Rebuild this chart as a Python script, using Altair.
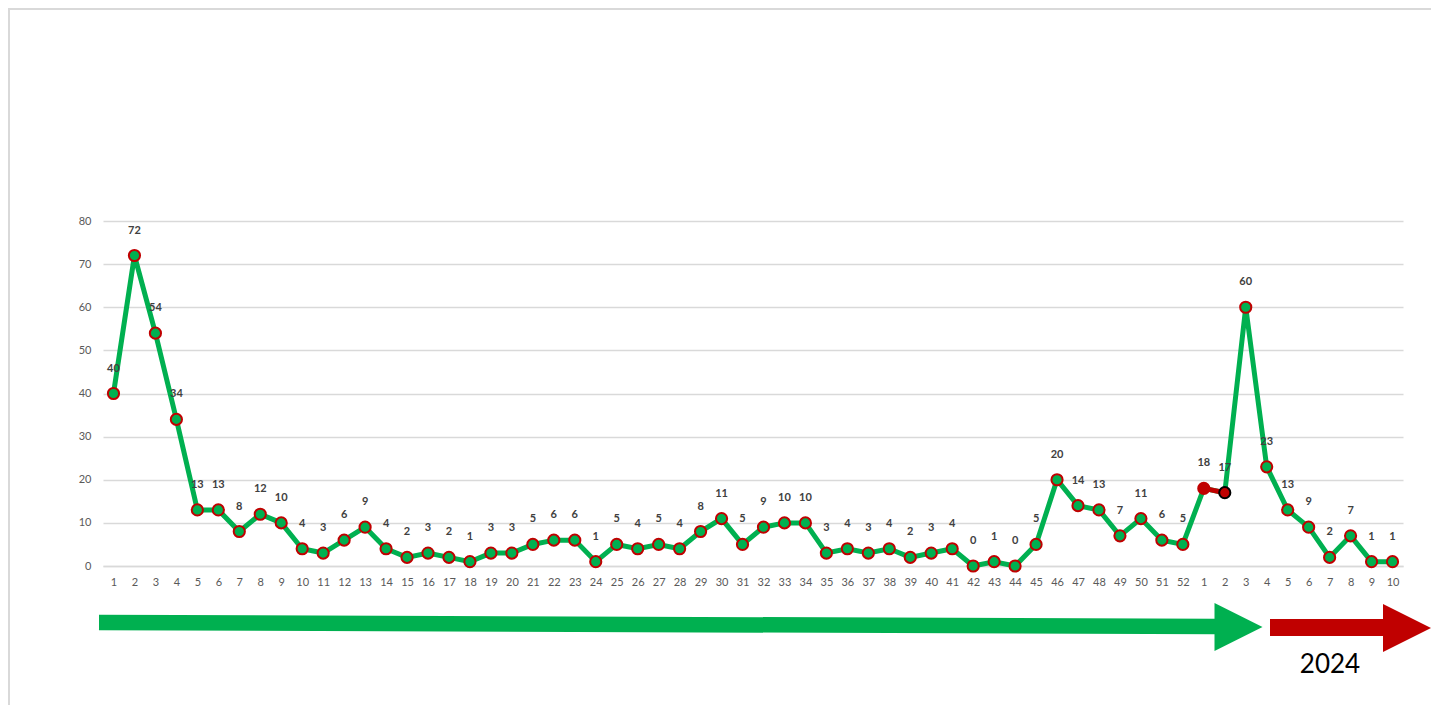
import json
import altair as alt
import pandas as pd

# week labels: 52 weeks of 2023, then 10 weeks of 2024
week_labels = [str(i) for i in range(1, 53)] + [str(i) for i in range(1, 11)]
values = [40, 72, 54, 34, 13, 13, 8, 12, 10, 4,
          3, 6, 9, 4, 2, 3, 2, 1, 3, 3,
          5, 6, 6, 1, 5, 4, 5, 4, 8, 11,
          5, 9, 10, 10, 3, 4, 3, 4, 2, 3,
          4, 0, 1, 0, 5, 20, 14, 13, 7, 11,
          6, 5,
          18, 17, 60, 23, 13, 9, 2, 7, 1, 1]
year_label = ["2024"]

GREEN = "#00B050"
RED = "#C00000"
FONT = "Lato"

df = pd.DataFrame({"idx": list(range(len(values))), "value": values})
label_expr = json.dumps(week_labels) + "[datum.value]"

W, H = 1300, 345

x_enc = alt.X("idx:O", title=None,
              scale=alt.Scale(paddingInner=0, paddingOuter=0),
              axis=alt.Axis(labelExpr=label_expr, labelAngle=0, ticks=False,
                            domainColor="#d9d9d9", domainWidth=1.5,
                            labelColor="#595959", labelFont=FONT, labelFontSize=11,
                            labelPadding=10, grid=False))
y_enc = alt.Y("value:Q", title=None,
              scale=alt.Scale(domain=[0, 80], nice=False),
              axis=alt.Axis(values=list(range(0, 81, 10)), ticks=False, domain=False,
                            gridColor="#d9d9d9", gridWidth=1.5,
                            labelColor="#595959", labelFont=FONT, labelFontSize=11,
                            labelPadding=12))

base = alt.Chart(df)

line = base.mark_line(color=GREEN, strokeWidth=5).encode(x=x_enc, y=y_enc)
red_seg = base.transform_filter("datum.idx == 52 || datum.idx == 53").mark_line(
    color=RED, strokeWidth=5).encode(x="idx:O", y="value:Q")
pts = base.transform_filter("datum.idx != 52 && datum.idx != 53").mark_point(
    shape="circle", filled=True, fill=GREEN, stroke=RED, strokeWidth=2, size=125, opacity=1
).encode(x="idx:O", y="value:Q")
pt52 = base.transform_filter("datum.idx == 52").mark_point(
    shape="circle", filled=True, fill=RED, stroke=RED, strokeWidth=2, size=125, opacity=1
).encode(x="idx:O", y="value:Q")
pt53 = base.transform_filter("datum.idx == 53").mark_point(
    shape="circle", filled=True, fill=RED, stroke="#000000", strokeWidth=2, size=125, opacity=1
).encode(x="idx:O", y="value:Q")
labels = base.mark_text(dy=-25, font=FONT, fontSize=11, fontWeight="bold",
                        color="#404040").encode(x="idx:O", y="value:Q", text="value:Q")

# decorations (page furniture, positioned in pixels, kept inside the canvas)
one = pd.DataFrame({"k": [0]})
border_top = alt.Chart(one).mark_rule(color="#d9d9d9", strokeWidth=2).encode(
    x=alt.value(-95), x2=alt.value(1328), y=alt.value(-212), y2=alt.value(-212))
border_left = alt.Chart(one).mark_rule(color="#d9d9d9", strokeWidth=2).encode(
    x=alt.value(-94), x2=alt.value(-94), y=alt.value(-212), y2=alt.value(484))
g_shaft = alt.Chart(one).mark_rule(color=GREEN, strokeWidth=15.5, strokeCap="butt").encode(
    x=alt.value(-4), x2=alt.value(1113), y=alt.value(401.5), y2=alt.value(405.5))
g_head = alt.Chart(one).mark_point(shape="M-1,-1 L1,0 L-1,1 Z", filled=True, fill=GREEN,
                                   strokeWidth=0, size=48 * 48, opacity=1).encode(
    x=alt.value(1135.5), y=alt.value(406))
r_shaft = alt.Chart(one).mark_rule(color=RED, strokeWidth=17, strokeCap="butt").encode(
    x=alt.value(1167), x2=alt.value(1281), y=alt.value(406.5), y2=alt.value(406.5))
r_head = alt.Chart(one).mark_point(shape="M-1,-1 L1,0 L-1,1 Z", filled=True, fill=RED,
                                   strokeWidth=0, size=48 * 48, opacity=1).encode(
    x=alt.value(1304), y=alt.value(407))
year_txt = alt.Chart(pd.DataFrame({"t": year_label})).mark_text(
    font=FONT, fontSize=26, color="#000000", align="center", baseline="middle").encode(
    x=alt.value(1227), y=alt.value(444), text="t:N")

chart = alt.layer(border_top, border_left, line, red_seg, pts, pt52, pt53, labels,
                  g_shaft, g_head, r_shaft, r_head, year_txt).properties(
    width=W, height=H,
    autosize=alt.AutoSizeParams(type="none"),
    padding={"left": 95, "top": 213, "right": 29, "bottom": 140},
).configure(background="white").configure_view(stroke=None)

chart.save("out.html", embed_options={"renderer": "svg", "actions": False})
